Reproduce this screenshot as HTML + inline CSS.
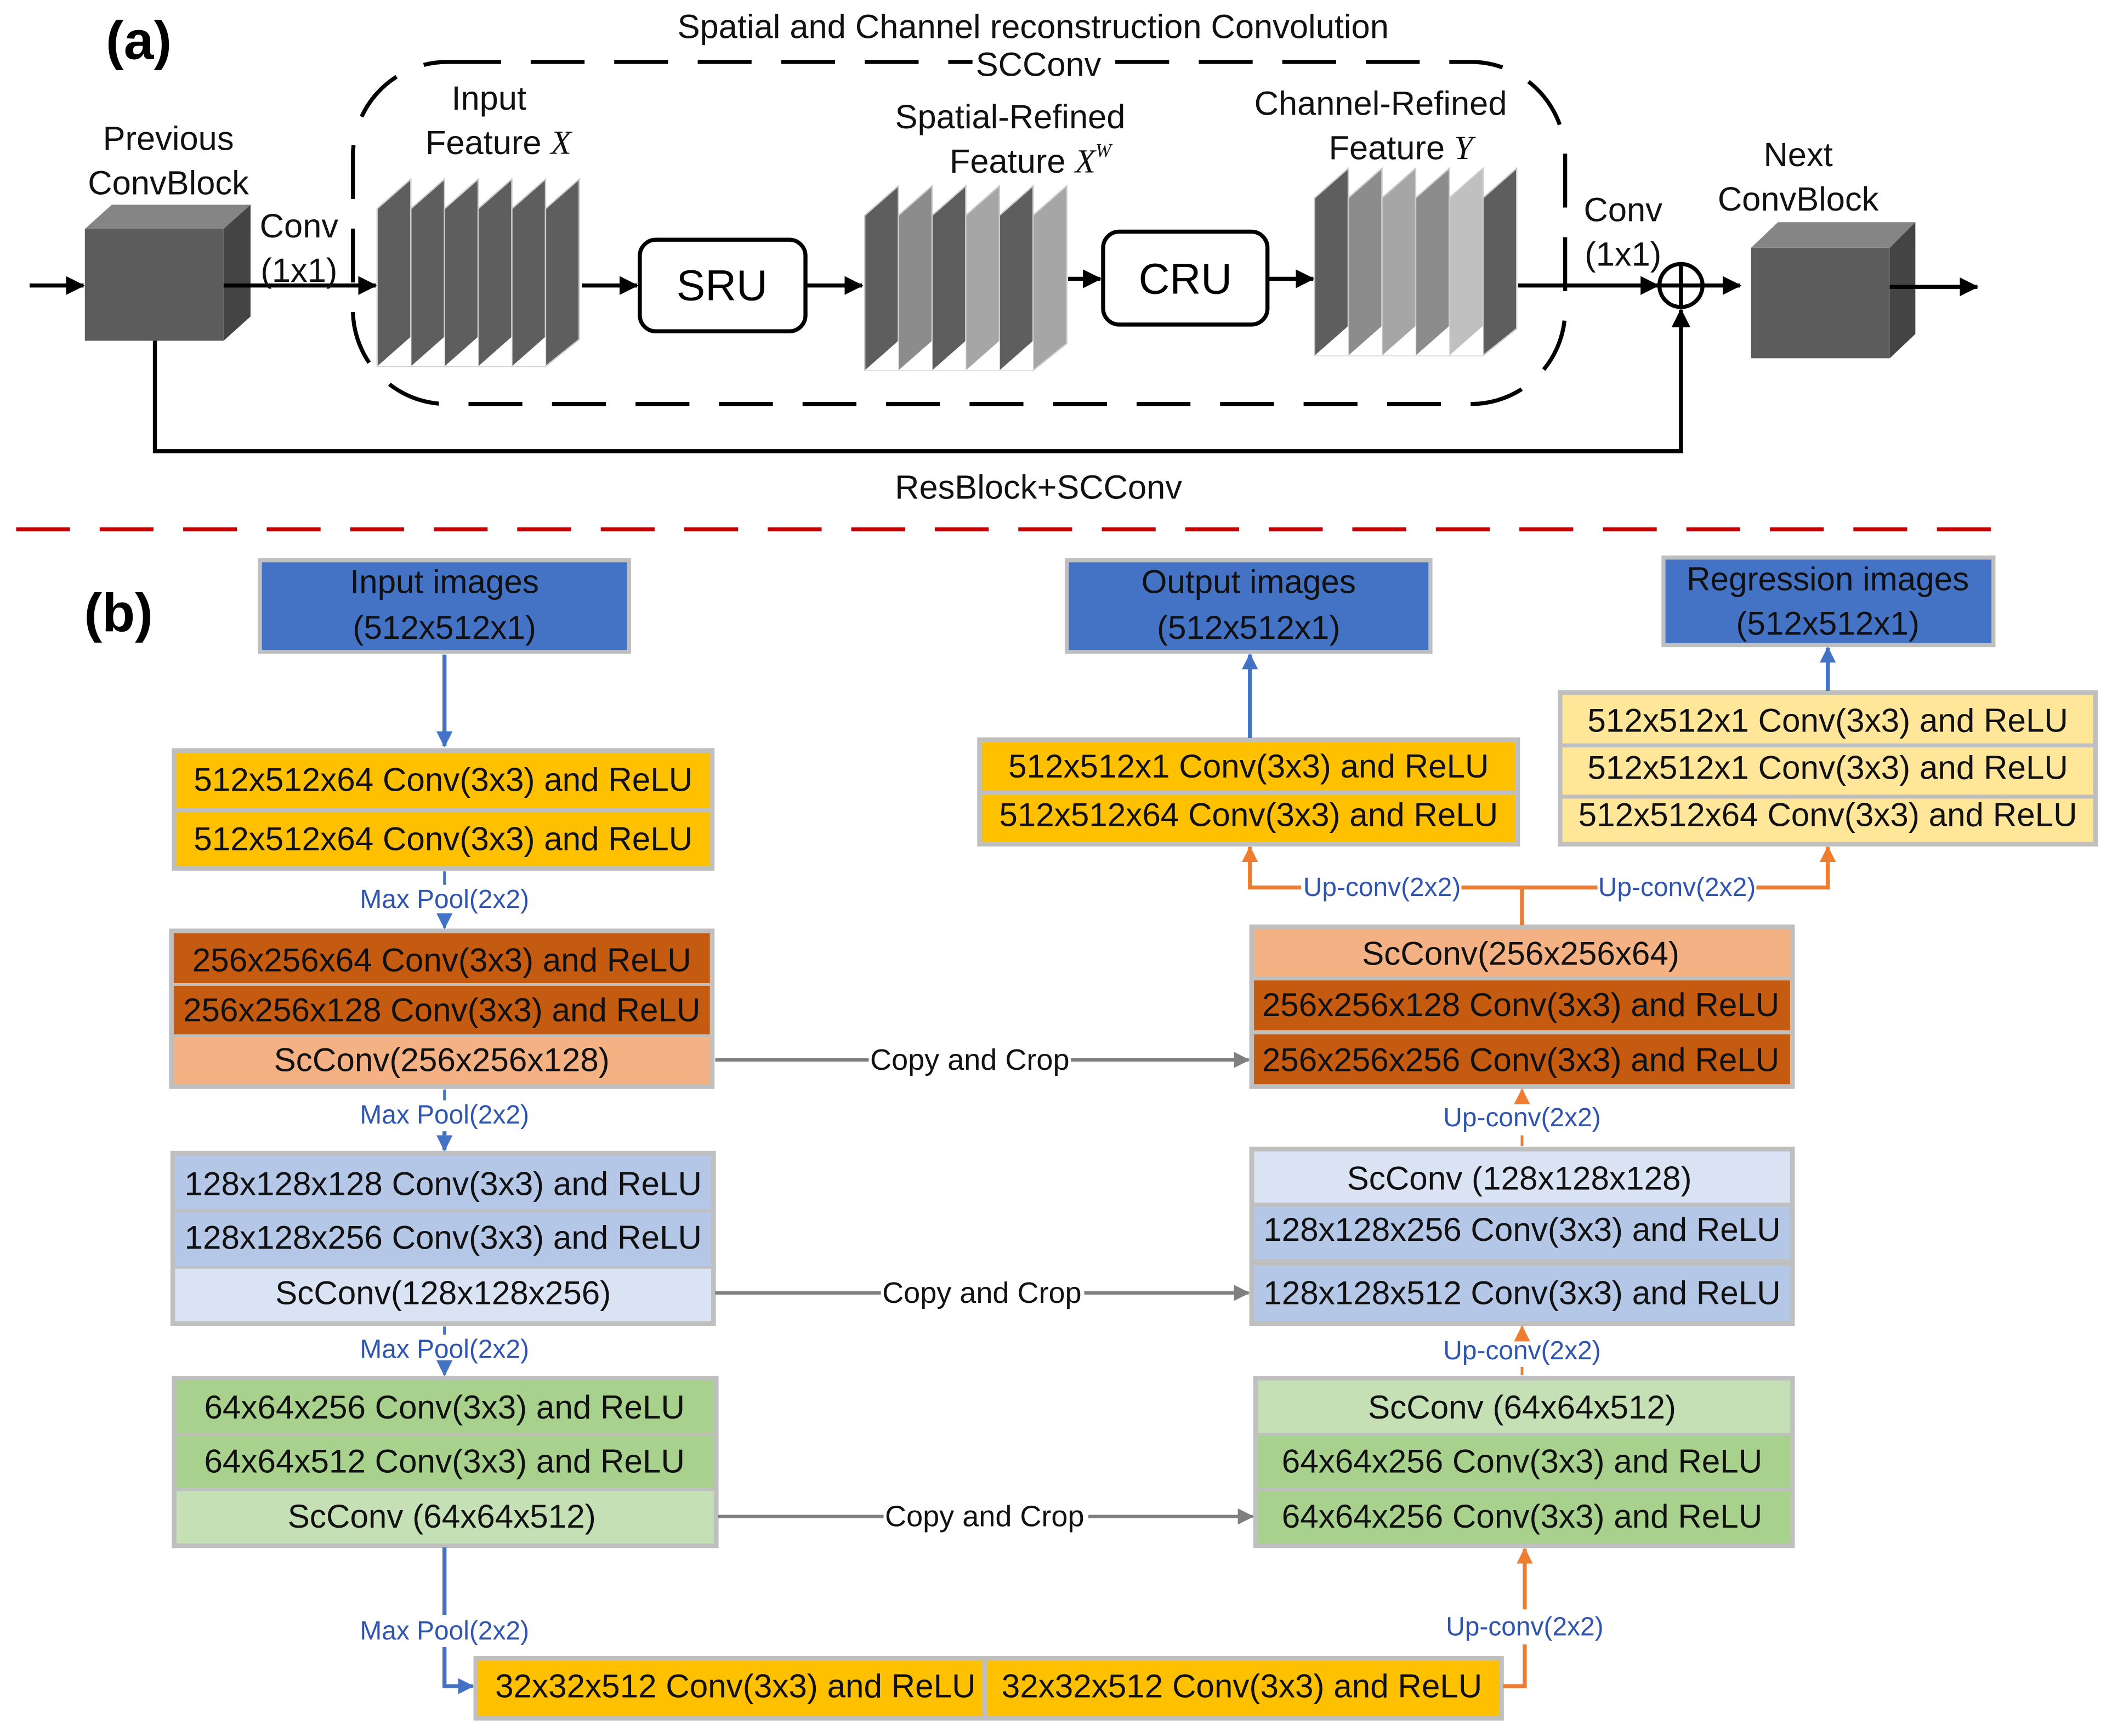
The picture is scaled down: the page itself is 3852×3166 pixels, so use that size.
<!DOCTYPE html>
<html><head><meta charset="utf-8"><style>
html,body{margin:0;padding:0;background:#fff;}
svg{display:block;}
text{font-family:"Liberation Sans",sans-serif;}
.t{font-size:24.5px;text-anchor:middle;dominant-baseline:central;fill:#111;}
.a{font-size:25px;text-anchor:middle;dominant-baseline:central;fill:#111;}
.m{font-size:19.5px;text-anchor:middle;dominant-baseline:central;fill:#2f55b0;}
.w{font-size:22px;text-anchor:middle;dominant-baseline:central;fill:#111;}
</style></head><body>
<svg width="3852" height="3166" viewBox="0 0 1568 1289" preserveAspectRatio="none" xmlns="http://www.w3.org/2000/svg">
<defs>
<marker id="kb" markerWidth="14" markerHeight="14" refX="13" refY="7" orient="auto" markerUnits="userSpaceOnUse"><path d="M0,0 L14,7 L0,14 z" fill="#000"/></marker>
<marker id="b" markerWidth="12" markerHeight="12" refX="11" refY="6" orient="auto" markerUnits="userSpaceOnUse"><path d="M0,0 L12,6 L0,12 z" fill="#4472c4"/></marker>
<marker id="o" markerWidth="12" markerHeight="12" refX="11" refY="6" orient="auto" markerUnits="userSpaceOnUse"><path d="M0,0 L12,6 L0,12 z" fill="#ed7d31"/></marker>
<marker id="g" markerWidth="12" markerHeight="12" refX="11" refY="6" orient="auto" markerUnits="userSpaceOnUse"><path d="M0,0 L12,6 L0,12 z" fill="#7f7f7f"/></marker>
</defs>

<!-- ===== (a) ===== -->
<text x="103" y="30" style="font-size:40px;font-weight:bold;text-anchor:middle;dominant-baseline:central">(a)</text>
<text class="a" x="767" y="20">Spatial and Channel reconstruction Convolution</text>
<rect x="262" y="46" width="900" height="254" rx="70" ry="70" fill="none" stroke="#000" stroke-width="3" stroke-dasharray="40,22"/>
<rect x="722" y="36" width="100" height="26" fill="#fff"/>
<text class="a" x="771" y="48">SCConv</text>

<!-- previous cube -->
<polygon points="63,170 83,152 186,152 166,170" fill="#858585"/>
<polygon points="166,170 186,152 186,235 166,253" fill="#444"/>
<rect x="63" y="170" width="103" height="83" fill="#5c5c5c"/>
<text class="a" x="125" y="103">Previous</text>
<text class="a" x="125" y="136">ConvBlock</text>
<line x1="22" y1="212" x2="62" y2="212" stroke="#000" stroke-width="3" marker-end="url(#kb)"/>
<line x1="166" y1="212" x2="279" y2="212" stroke="#000" stroke-width="3" marker-end="url(#kb)"/>
<text class="a" x="222" y="168">Conv</text>
<text class="a" x="222" y="201">(1x1)</text>

<!-- input stack -->
<g stroke="#ccc" stroke-width="1">
<polygon points="280,155 305,133 305,272 280,272" fill="#5e5e5e"/>
<polygon points="305,155 330,133 330,272 305,272" fill="#5e5e5e"/>
<polygon points="330,155 355,133 355,272 330,272" fill="#5e5e5e"/>
<polygon points="355,155 380,133 380,272 355,272" fill="#5e5e5e"/>
<polygon points="380,155 405,133 405,272 380,272" fill="#5e5e5e"/>
<polygon points="405,155 430,133 430,252 405,272" fill="#5e5e5e"/>
</g>
<g fill="#fff"><polygon points="280,272 305,250 305,272"/><polygon points="305,272 330,250 330,272"/><polygon points="330,272 355,250 355,272"/><polygon points="355,272 380,250 380,272"/><polygon points="380,272 405,250 405,272"/></g>
<text class="a" x="363" y="73">Input</text>
<text class="a" x="370" y="106">Feature <tspan style="font-family:'Liberation Serif',serif;font-style:italic">X</tspan></text>
<line x1="432" y1="212" x2="473" y2="212" stroke="#000" stroke-width="3" marker-end="url(#kb)"/>
<rect x="475" y="178" width="123" height="68" rx="12" fill="#fff" stroke="#000" stroke-width="3"/>
<text x="536" y="212" style="font-size:32px;text-anchor:middle;dominant-baseline:central">SRU</text>
<line x1="598" y1="212" x2="640" y2="212" stroke="#000" stroke-width="3" marker-end="url(#kb)"/>

<!-- spatial stack -->
<g stroke="#ccc" stroke-width="1">
<polygon points="642,160 667,138 667,275 642,275" fill="#5e5e5e"/>
<polygon points="667,160 692,138 692,275 667,275" fill="#8c8c8c"/>
<polygon points="692,160 717,138 717,275 692,275" fill="#5e5e5e"/>
<polygon points="717,160 742,138 742,275 717,275" fill="#a6a6a6"/>
<polygon points="742,160 767,138 767,275 742,275" fill="#5e5e5e"/>
<polygon points="767,160 792,138 792,255 767,275" fill="#a6a6a6"/>
</g>
<g fill="#fff"><polygon points="642,275 667,253 667,275"/><polygon points="667,275 692,253 692,275"/><polygon points="692,275 717,253 717,275"/><polygon points="717,275 742,253 742,275"/><polygon points="742,275 767,253 767,275"/></g>
<text class="a" x="750" y="87">Spatial-Refined</text>
<text class="a" x="765" y="120">Feature <tspan style="font-family:'Liberation Serif',serif;font-style:italic">X<tspan dy="-8" style="font-size:14px">W</tspan></tspan></text>
<line x1="793" y1="207" x2="817" y2="207" stroke="#000" stroke-width="3" marker-end="url(#kb)"/>
<rect x="819" y="172" width="122" height="69" rx="12" fill="#fff" stroke="#000" stroke-width="3"/>
<text x="880" y="207" style="font-size:32px;text-anchor:middle;dominant-baseline:central">CRU</text>
<line x1="941" y1="207" x2="975" y2="207" stroke="#000" stroke-width="3" marker-end="url(#kb)"/>

<!-- channel stack -->
<g stroke="#ccc" stroke-width="1">
<polygon points="976,147 1001,125 1001,264 976,264" fill="#5e5e5e"/>
<polygon points="1001,147 1026,125 1026,264 1001,264" fill="#8c8c8c"/>
<polygon points="1026,147 1051,125 1051,264 1026,264" fill="#a6a6a6"/>
<polygon points="1051,147 1076,125 1076,264 1051,264" fill="#8c8c8c"/>
<polygon points="1076,147 1101,125 1101,264 1076,264" fill="#c0c0c0"/>
<polygon points="1101,147 1126,125 1126,244 1101,264" fill="#5e5e5e"/>
</g>
<g fill="#fff"><polygon points="976,264 1001,242 1001,264"/><polygon points="1001,264 1026,242 1026,264"/><polygon points="1026,264 1051,242 1051,264"/><polygon points="1051,264 1076,242 1076,264"/><polygon points="1076,264 1101,242 1101,264"/></g>
<text class="a" x="1025" y="77">Channel-Refined</text>
<text class="a" x="1040" y="110">Feature <tspan style="font-family:'Liberation Serif',serif;font-style:italic">Y</tspan></text>

<line x1="1127" y1="212" x2="1231" y2="212" stroke="#000" stroke-width="3" marker-end="url(#kb)"/>
<text class="a" x="1205" y="156">Conv</text>
<text class="a" x="1205" y="189">(1x1)</text>
<circle cx="1248" cy="212" r="16" fill="#fff" stroke="#000" stroke-width="3"/>
<line x1="1232" y1="212" x2="1264" y2="212" stroke="#000" stroke-width="3"/>
<line x1="1248" y1="196" x2="1248" y2="228" stroke="#000" stroke-width="3"/>
<line x1="1264" y1="212" x2="1292" y2="212" stroke="#000" stroke-width="3" marker-end="url(#kb)"/>

<polygon points="1300,184 1320,165 1422,165 1403,184" fill="#858585"/>
<polygon points="1403,184 1422,165 1422,248 1403,266" fill="#444"/>
<rect x="1300" y="184" width="103" height="82" fill="#5c5c5c"/>
<text class="a" x="1335" y="115">Next</text>
<text class="a" x="1335" y="148">ConvBlock</text>
<line x1="1403" y1="213" x2="1468" y2="213" stroke="#000" stroke-width="3" marker-end="url(#kb)"/>

<polyline points="115,253 115,335 1248,335 1248,230" fill="none" stroke="#000" stroke-width="3" marker-end="url(#kb)"/>
<text class="a" x="771" y="362">ResBlock+SCConv</text>

<line x1="12" y1="393" x2="1490" y2="393" stroke="#c00000" stroke-width="3" stroke-dasharray="40,22"/>

<!-- ===== (b) ===== -->
<text x="88" y="455" style="font-size:40px;font-weight:bold;text-anchor:middle;dominant-baseline:central">(b)</text>

<g stroke="#bfbfbf" stroke-width="3">
<rect x="193" y="416" width="274" height="68" fill="#4472c4"/>
<rect x="129" y="557" width="400" height="88" fill="#bfbfbf"/>
<rect x="127" y="691" width="402" height="116" fill="#bfbfbf"/>
<rect x="128" y="856" width="402" height="127" fill="#bfbfbf"/>
<rect x="129" y="1023" width="403" height="125" fill="#bfbfbf"/>
<rect x="353" y="1231" width="762" height="45" fill="#bfbfbf"/>
<rect x="932" y="1023" width="399" height="125" fill="#bfbfbf"/>
<rect x="929" y="853" width="402" height="130" fill="#bfbfbf"/>
<rect x="929" y="688" width="402" height="119" fill="#bfbfbf"/>
<rect x="727" y="549" width="400" height="78" fill="#bfbfbf"/>
<rect x="792" y="416" width="270" height="68" fill="#4472c4"/>
<rect x="1158" y="514" width="398" height="113" fill="#bfbfbf"/>
<rect x="1235" y="414" width="245" height="65" fill="#4472c4"/>
</g>
<g stroke="none">
<rect x="131" y="559" width="396" height="41" fill="#ffc000"/>
<rect x="131" y="603" width="396" height="40" fill="#ffc000"/>
<rect x="129" y="693" width="398" height="37" fill="#c55a11"/>
<rect x="129" y="732" width="398" height="36" fill="#c55a11"/>
<rect x="129" y="770" width="398" height="35" fill="#f4b183"/>
<rect x="130" y="858" width="398" height="40" fill="#b4c7e7"/>
<rect x="130" y="900" width="398" height="40" fill="#b4c7e7"/>
<rect x="130" y="942" width="398" height="39" fill="#dae3f3"/>
<rect x="131" y="1025" width="399" height="39" fill="#a9d18e"/>
<rect x="131" y="1066" width="399" height="39" fill="#a9d18e"/>
<rect x="131" y="1107" width="399" height="39" fill="#c5e0b4"/>
<rect x="355" y="1233" width="374" height="41" fill="#ffc000"/>
<rect x="733" y="1233" width="380" height="41" fill="#ffc000"/>
<rect x="934" y="1025" width="395" height="39" fill="#c5e0b4"/>
<rect x="934" y="1066" width="395" height="39" fill="#a9d18e"/>
<rect x="934" y="1107" width="395" height="39" fill="#a9d18e"/>
<rect x="931" y="855" width="398" height="38" fill="#dae3f3"/>
<rect x="931" y="896" width="398" height="39" fill="#b4c7e7"/>
<rect x="931" y="940" width="398" height="41" fill="#b4c7e7"/>
<rect x="931" y="690" width="398" height="35" fill="#f4b183"/>
<rect x="931" y="728" width="398" height="37" fill="#c55a11"/>
<rect x="931" y="768" width="398" height="37" fill="#c55a11"/>
<rect x="729" y="551" width="396" height="36" fill="#ffc000"/>
<rect x="729" y="590" width="396" height="35" fill="#ffc000"/>
<rect x="1160" y="516" width="394" height="36" fill="#ffe699"/>
<rect x="1160" y="555" width="394" height="35" fill="#ffe699"/>
<rect x="1160" y="593" width="394" height="32" fill="#ffe699"/>
</g>

<text class="t" x="330" y="432">Input images</text>
<text class="t" x="330" y="466">(512x512x1)</text>
<text class="t" x="927" y="432">Output images</text>
<text class="t" x="927" y="466">(512x512x1)</text>
<text class="t" x="1357" y="430">Regression images</text>
<text class="t" x="1357" y="463">(512x512x1)</text>

<text class="t" x="329" y="579">512x512x64 Conv(3x3) and ReLU</text>
<text class="t" x="329" y="623">512x512x64 Conv(3x3) and ReLU</text>
<text class="t" x="328" y="713">256x256x64 Conv(3x3) and ReLU</text>
<text class="t" x="328" y="750">256x256x128 Conv(3x3) and ReLU</text>
<text class="t" x="328" y="787">ScConv(256x256x128)</text>
<text class="t" x="329" y="879">128x128x128 Conv(3x3) and ReLU</text>
<text class="t" x="329" y="919">128x128x256 Conv(3x3) and ReLU</text>
<text class="t" x="329" y="960">ScConv(128x128x256)</text>
<text class="t" x="330" y="1045">64x64x256 Conv(3x3) and ReLU</text>
<text class="t" x="330" y="1085">64x64x512 Conv(3x3) and ReLU</text>
<text class="t" x="328" y="1126">ScConv (64x64x512)</text>
<text class="t" x="546" y="1252">32x32x512 Conv(3x3) and ReLU</text>
<text class="t" x="922" y="1252">32x32x512 Conv(3x3) and ReLU</text>
<text class="t" x="1130" y="1045">ScConv (64x64x512)</text>
<text class="t" x="1130" y="1085">64x64x256 Conv(3x3) and ReLU</text>
<text class="t" x="1130" y="1126">64x64x256 Conv(3x3) and ReLU</text>
<text class="t" x="1128" y="875">ScConv (128x128x128)</text>
<text class="t" x="1130" y="913">128x128x256 Conv(3x3) and ReLU</text>
<text class="t" x="1130" y="960">128x128x512 Conv(3x3) and ReLU</text>
<text class="t" x="1129" y="708">ScConv(256x256x64)</text>
<text class="t" x="1129" y="746">256x256x128 Conv(3x3) and ReLU</text>
<text class="t" x="1129" y="787">256x256x256 Conv(3x3) and ReLU</text>
<text class="t" x="927" y="569">512x512x1 Conv(3x3) and ReLU</text>
<text class="t" x="927" y="605">512x512x64 Conv(3x3) and ReLU</text>
<text class="t" x="1357" y="535">512x512x1 Conv(3x3) and ReLU</text>
<text class="t" x="1357" y="570">512x512x1 Conv(3x3) and ReLU</text>
<text class="t" x="1357" y="605">512x512x64 Conv(3x3) and ReLU</text>

<!-- connectors -->
<line x1="330" y1="486" x2="330" y2="554" stroke="#4472c4" stroke-width="3" marker-end="url(#b)"/>
<line x1="330" y1="647" x2="330" y2="657" stroke="#4472c4" stroke-width="2"/>
<line x1="330" y1="680" x2="330" y2="689" stroke="#4472c4" stroke-width="2" marker-end="url(#b)"/>
<text class="m" x="330" y="668">Max Pool(2x2)</text>
<line x1="330" y1="809" x2="330" y2="817" stroke="#4472c4" stroke-width="2"/>
<line x1="330" y1="840" x2="330" y2="854" stroke="#4472c4" stroke-width="3" marker-end="url(#b)"/>
<text class="m" x="330" y="828">Max Pool(2x2)</text>
<line x1="330" y1="985" x2="330" y2="991" stroke="#4472c4" stroke-width="2"/>
<line x1="330" y1="1014" x2="330" y2="1021" stroke="#4472c4" stroke-width="2" marker-end="url(#b)"/>
<text class="m" x="330" y="1002">Max Pool(2x2)</text>
<polyline points="330,1149 330,1199" fill="none" stroke="#4472c4" stroke-width="3"/>
<polyline points="330,1223 330,1252 351,1252" fill="none" stroke="#4472c4" stroke-width="3" marker-end="url(#b)"/>
<text class="m" x="330" y="1211">Max Pool(2x2)</text>

<line x1="531" y1="787" x2="645" y2="787" stroke="#7f7f7f" stroke-width="2.5"/>
<line x1="795" y1="787" x2="927" y2="787" stroke="#7f7f7f" stroke-width="2.5" marker-end="url(#g)"/>
<text class="w" x="720" y="787">Copy and Crop</text>
<line x1="531" y1="960" x2="654" y2="960" stroke="#7f7f7f" stroke-width="2.5"/>
<line x1="805" y1="960" x2="927" y2="960" stroke="#7f7f7f" stroke-width="2.5" marker-end="url(#g)"/>
<text class="w" x="729" y="960">Copy and Crop</text>
<line x1="533" y1="1126" x2="656" y2="1126" stroke="#7f7f7f" stroke-width="2.5"/>
<line x1="808" y1="1126" x2="930" y2="1126" stroke="#7f7f7f" stroke-width="2.5" marker-end="url(#g)"/>
<text class="w" x="731" y="1126">Copy and Crop</text>

<polyline points="1116,1252 1132,1252 1132,1221" fill="none" stroke="#ed7d31" stroke-width="3"/>
<line x1="1132" y1="1195" x2="1132" y2="1150" stroke="#ed7d31" stroke-width="3" marker-end="url(#o)"/>
<text class="m" x="1132" y="1208">Up-conv(2x2)</text>
<line x1="1130" y1="1021" x2="1130" y2="1015" stroke="#ed7d31" stroke-width="2"/>
<line x1="1130" y1="992" x2="1130" y2="985" stroke="#ed7d31" stroke-width="2" marker-end="url(#o)"/>
<text class="m" x="1130" y="1003">Up-conv(2x2)</text>
<line x1="1130" y1="851" x2="1130" y2="843" stroke="#ed7d31" stroke-width="2"/>
<line x1="1130" y1="819" x2="1130" y2="809" stroke="#ed7d31" stroke-width="2" marker-end="url(#o)"/>
<text class="m" x="1130" y="830">Up-conv(2x2)</text>

<line x1="1130" y1="687" x2="1130" y2="659" stroke="#ed7d31" stroke-width="3"/>
<polyline points="966,659 928,659 928,629" fill="none" stroke="#ed7d31" stroke-width="3" marker-end="url(#o)"/>
<line x1="1085" y1="659" x2="1186" y2="659" stroke="#ed7d31" stroke-width="3"/>
<polyline points="1304,659 1357,659 1357,629" fill="none" stroke="#ed7d31" stroke-width="3" marker-end="url(#o)"/>
<text class="m" x="1026" y="659">Up-conv(2x2)</text>
<text class="m" x="1245" y="659">Up-conv(2x2)</text>

<line x1="928" y1="548" x2="928" y2="486" stroke="#4472c4" stroke-width="3" marker-end="url(#b)"/>
<line x1="1357" y1="513" x2="1357" y2="481" stroke="#4472c4" stroke-width="3" marker-end="url(#b)"/>
</svg>
</body></html>
